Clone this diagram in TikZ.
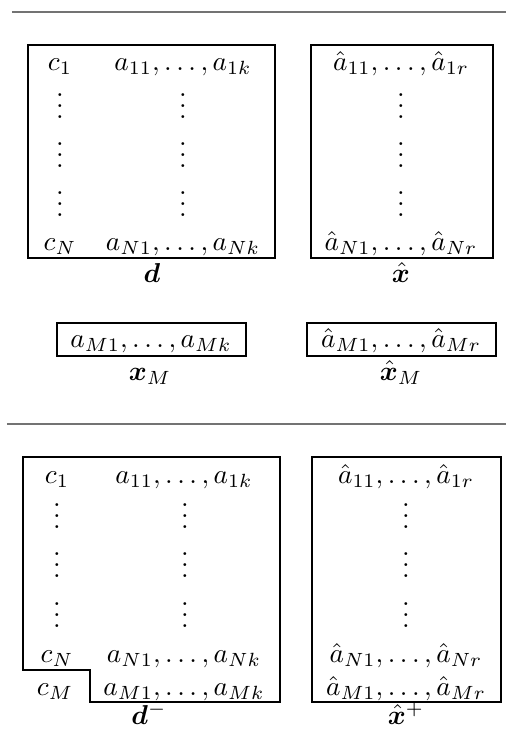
\documentclass[tikz,border=0pt]{standalone}
\usepackage{bm}

\tikzset{entry/.style={anchor=base, inner sep=0pt},
	dotsbox/.style={entry, text height=8pt, text depth=0pt}}

\begin{document}
\begin{tikzpicture}[x=0.366pt, y=-0.366pt]
		%%%%% START %%%%%
		\useasboundingbox (0, 0) rectangle (506, 729);
		
		\draw[line width=0.5pt, color=black!55] (12, 12) -- (506, 12);
		
		\draw[line width=0.4pt] (28, 45) rectangle (275, 258);
		\node[entry] (c1) at (60, 70) {$c_1$};
		\node[entry] (a1) at (183, 70) {$a_{11}, \ldots, a_{1k}$};
		\foreach \y in {118, 167, 216} {
			\node[dotsbox] (dc\y) at (60, \y) {$\vdots$};
			\node[dotsbox] (da\y) at (183, \y) {$\vdots$};
		}
		\node[entry] (cN) at (60, 250) {$c_N$};
		\node[entry] (aN) at (183, 250) {$a_{N1}, \ldots, a_{Nk}$};
		\node[entry] (d) at (152, 282) {$\bm{d}$};
		
		\draw[line width=0.4pt] (311, 45) rectangle (493, 258);
		\node[entry] (h1) at (401, 70) {$\hat{a}_{11}, \ldots, \hat{a}_{1r}$};
		\foreach \y in {118, 167, 216}
			\node[dotsbox] (dh\y) at (401, \y) {$\vdots$};
		\node[entry] (hN) at (401, 250) {$\hat{a}_{N1}, \ldots, \hat{a}_{Nr}$};
		\node[entry] (x) at (401, 282) {$\hat{\bm{x}}$};
		
		\draw[line width=0.4pt] (57, 323) rectangle (246, 356);
		\node[entry] (aM) at (151, 347) {$a_{M1}, \ldots, a_{Mk}$};
		\node[entry] (xM) at (150, 380) {$\bm{x}_M$};
		
		\draw[line width=0.4pt] (307, 323) rectangle (496, 356);
		\node[entry] (hM) at (401, 347) {$\hat{a}_{M1}, \ldots, \hat{a}_{Mr}$};
		\node[entry] (xhM) at (401, 380) {$\hat{\bm{x}}_M$};
		
		\draw[line width=0.5pt, color=black!55] (7, 424) -- (506, 424);
		
		\draw[line width=0.4pt] (23, 457) -- (280, 457) -- (280, 702) -- (90, 702)
			-- (90, 670) -- (23, 670) -- cycle;
		\node[entry] (c1m) at (57, 483) {$c_1$};
		\node[entry] (a1m) at (184, 483) {$a_{11}, \ldots, a_{1k}$};
		\foreach \y in {528, 577, 627} {
			\node[dotsbox] (dcm\y) at (57, \y) {$\vdots$};
			\node[dotsbox] (dam\y) at (185, \y) {$\vdots$};
		}
		\node[entry] (cNm) at (57, 662) {$c_N$};
		\node[entry] (aNm) at (184, 662) {$a_{N1}, \ldots, a_{Nk}$};
		\node[entry] (cMm) at (55, 695) {$c_M$};
		\node[entry] (aMm) at (184, 695) {$a_{M1}, \ldots, a_{Mk}$};
		\node[entry] (dm) at (149, 724) {$\bm{d}^-$};
		
		\draw[line width=0.4pt] (312, 457) rectangle (501, 702);
		\node[entry] (h1p) at (406, 483) {$\hat{a}_{11}, \ldots, \hat{a}_{1r}$};
		\foreach \y in {528, 577, 627}
			\node[dotsbox] (dhp\y) at (406, \y) {$\vdots$};
		\node[entry] (hNp) at (406, 662) {$\hat{a}_{N1}, \ldots, \hat{a}_{Nr}$};
		\node[entry] (hMp) at (406, 695) {$\hat{a}_{M1}, \ldots, \hat{a}_{Mr}$};
		\node[entry] (xp) at (406, 724) {$\hat{\bm{x}}^+$};
		
		%%%%% END %%%%%
	\end{tikzpicture}
\end{document}
